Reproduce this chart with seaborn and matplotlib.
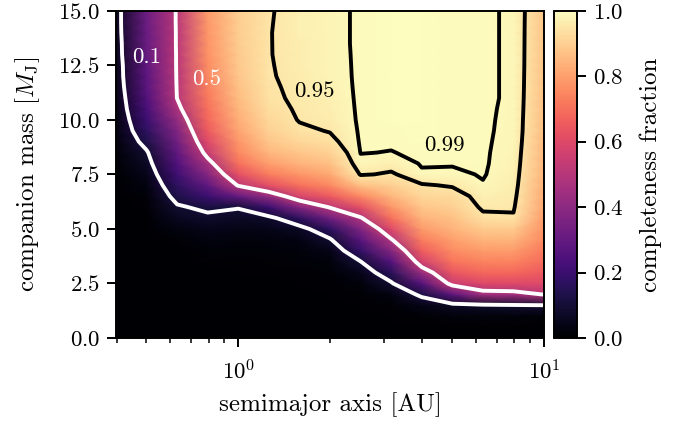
import numpy as np
import matplotlib
matplotlib.use('Agg')
import matplotlib.pyplot as plt
import seaborn as sns
from matplotlib.ticker import MultipleLocator, NullFormatter

sns.set_theme(style='ticks')
plt.rcParams.update({
    'font.family': 'serif',
    'font.serif': ['cmr10'],
    'mathtext.fontset': 'cm',
    'axes.formatter.use_mathtext': True,
    'axes.unicode_minus': False,
    'axes.edgecolor': 'black',
    'xtick.color': 'black',
    'ytick.color': 'black',
    'axes.labelcolor': 'black',
    'text.color': 'black',
})

# grid (columns = semimajor axis, values along companion mass)
semimajor_axis = [0.398, 0.501, 0.631, 0.794, 1.0, 1.259, 1.585, 1.995,
                  2.512, 3.162, 3.981, 5.012, 6.310, 7.943, 10.0]
companion_mass = [0.0, 0.5, 1.0, 1.5, 2.0, 2.5, 3.0, 3.5, 4.0, 4.5, 5.0,
                  5.5, 6.0, 6.5, 7.0, 7.5, 8.0, 8.5, 9.0, 9.5, 10.0, 10.5,
                  11.0, 11.5, 12.0, 12.5, 13.0, 13.5, 14.0, 14.5, 15.0]

completeness = [
    # a = 0.40
    [0, 0, 0, 0, 0, 0, 0, 0, 0, 0, 0, 0, 0, 0, 0, 0,
     0.01, 0.015, 0.02, 0.025, 0.03, 0.035, 0.04, 0.045, 0.05, 0.05,
     0.055, 0.055, 0.06, 0.06, 0.06],
    # a = 0.50
    [0, 0, 0, 0, 0, 0, 0, 0, 0, 0, 0, 0,
     0.01, 0.015, 0.03, 0.05, 0.07, 0.09, 0.13, 0.17, 0.2, 0.23, 0.25,
     0.27, 0.28, 0.29, 0.3, 0.31, 0.31, 0.32, 0.32],
    # a = 0.63
    [0, 0, 0, 0, 0, 0, 0, 0,
     0.003, 0.01, 0.03, 0.06, 0.09, 0.13, 0.17, 0.21, 0.25, 0.29, 0.33,
     0.37, 0.42, 0.47, 0.502, 0.505, 0.507, 0.508, 0.508, 0.509, 0.509,
     0.51, 0.51],
    # a = 0.79
    [0, 0, 0, 0, 0, 0,
     0.003, 0.008, 0.015, 0.03, 0.05, 0.08, 0.12, 0.2, 0.29, 0.38, 0.46,
     0.54, 0.6, 0.65, 0.68, 0.7, 0.72, 0.735, 0.75, 0.76, 0.77, 0.775,
     0.78, 0.785, 0.79],
    # a = 1.0
    [0, 0, 0, 0, 0,
     0.002, 0.004, 0.007, 0.012, 0.02, 0.04, 0.07, 0.105, 0.3, 0.51, 0.62,
     0.7, 0.75, 0.78, 0.81, 0.83, 0.845, 0.86, 0.87, 0.88, 0.885, 0.89,
     0.893, 0.896, 0.898, 0.9],
    # a = 1.26
    [0, 0, 0, 0, 0,
     0.002, 0.005, 0.008, 0.015, 0.025, 0.045, 0.08, 0.2, 0.42, 0.62, 0.73,
     0.8, 0.85, 0.88, 0.905, 0.92, 0.932, 0.94, 0.943, 0.946, 0.947,
     0.948, 0.948, 0.948, 0.947, 0.946],
    # a = 1.58
    [0, 0, 0, 0,
     0.002, 0.004, 0.007, 0.012, 0.02, 0.035, 0.07, 0.17, 0.38, 0.58, 0.7,
     0.78, 0.84, 0.88, 0.915, 0.94, 0.953, 0.957, 0.96, 0.962, 0.964,
     0.966, 0.967, 0.968, 0.969, 0.97, 0.97],
    # a = 2.0
    [0, 0, 0,
     0.002, 0.004, 0.007, 0.012, 0.02, 0.04, 0.09, 0.17, 0.33, 0.51, 0.65,
     0.75, 0.82, 0.87, 0.905, 0.935, 0.953, 0.962, 0.968, 0.972, 0.975,
     0.977, 0.978, 0.979, 0.98, 0.98, 0.98, 0.98],
    # a = 2.5
    [0, 0,
     0.002, 0.005, 0.01, 0.02, 0.05, 0.098, 0.18, 0.27, 0.37, 0.49, 0.62,
     0.75, 0.87, 0.955, 0.982, 0.991, 0.994, 0.995, 0.996,
     0.996, 0.996, 0.996, 0.996, 0.996, 0.996, 0.996, 0.996, 0.996, 0.996],
    # a = 3.16
    [0, 0.001, 0.004, 0.01, 0.03, 0.09, 0.16, 0.26, 0.38, 0.49, 0.6, 0.7,
     0.78, 0.85, 0.9, 0.943, 0.97, 0.989, 0.994, 0.996,
     0.997, 0.997, 0.997, 0.997, 0.997, 0.997, 0.997, 0.997, 0.997, 0.997,
     0.997],
    # a = 3.98
    [0, 0.002, 0.01, 0.04, 0.12, 0.26, 0.43, 0.57, 0.66, 0.73, 0.79, 0.84,
     0.88, 0.915, 0.945, 0.985, 0.993, 0.996,
     0.997, 0.997, 0.997, 0.997, 0.997, 0.997, 0.997, 0.997, 0.997, 0.997,
     0.997, 0.997, 0.997],
    # a = 5.0
    [0, 0.003, 0.02, 0.07, 0.28, 0.55, 0.64, 0.71, 0.76, 0.8, 0.84, 0.87,
     0.9, 0.925, 0.955, 0.985, 0.992, 0.994,
     0.995, 0.995, 0.995, 0.995, 0.995, 0.995, 0.995, 0.995, 0.995, 0.995,
     0.995, 0.995, 0.995],
    # a = 6.3
    [0, 0.003, 0.02, 0.08, 0.45, 0.6, 0.68, 0.74, 0.79, 0.84, 0.89, 0.935,
     0.96, 0.972, 0.988, 0.992,
     0.993, 0.993, 0.993, 0.993, 0.993, 0.993, 0.993, 0.993, 0.993, 0.993,
     0.993, 0.993, 0.993, 0.993, 0.993],
    # a = 7.9
    [0, 0.003, 0.02, 0.09, 0.46, 0.6, 0.68, 0.74, 0.79, 0.84, 0.89, 0.945,
     0.955, 0.962, 0.968, 0.972, 0.976, 0.979, 0.982, 0.984, 0.985, 0.986,
     0.987, 0.987, 0.987, 0.987, 0.987, 0.987, 0.987, 0.987, 0.987],
    # a = 10
    [0, 0.002, 0.015, 0.098, 0.505, 0.6, 0.65, 0.69, 0.72, 0.75, 0.77, 0.79,
     0.81, 0.82, 0.83, 0.84, 0.845, 0.85, 0.855, 0.86, 0.862, 0.865, 0.867,
     0.87, 0.872, 0.874, 0.875, 0.876, 0.877, 0.878, 0.88],
]

contour_levels_light = [0.1, 0.5]
contour_levels_dark = [0.95, 0.99]
# where the level labels sit (semimajor axis, mass)
label_text = ['0.1', '0.5', '0.95', '0.99']
label_a = [0.503, 0.788, 1.775, 4.73]
label_m = [12.85, 11.85, 11.32, 8.85]
label_color = ['white', 'white', 'black', 'black']

Z = np.array(completeness).T
cmap = sns.color_palette('magma', as_cmap=True)

fig = plt.figure(figsize=(6.94, 4.26), dpi=100)
ax = fig.add_axes([0.167, 0.2066, 0.617, 0.768])
cax = fig.add_axes([0.798, 0.2066, 0.033, 0.768])

mesh = ax.pcolormesh(semimajor_axis, companion_mass, Z, shading='gouraud',
                     cmap=cmap, vmin=0, vmax=1, rasterized=True)
ax.contour(semimajor_axis, companion_mass, Z, levels=contour_levels_light,
           colors='white', linewidths=2.8)
ax.contour(semimajor_axis, companion_mass, Z, levels=contour_levels_dark,
           colors='black', linewidths=2.8)
for t, a, m, c in zip(label_text, label_a, label_m, label_color):
    ax.text(a, m, t, color=c, fontsize=16.5, ha='center', va='center')

ax.set_xscale('log')
ax.set_xlim(semimajor_axis[0], semimajor_axis[-1])
ax.set_ylim(0, 15)
ax.yaxis.set_major_locator(MultipleLocator(2.5))
ax.xaxis.set_minor_formatter(NullFormatter())
ax.set_xlabel('semimajor axis [AU]', fontsize=18, va='center')
ax.set_ylabel(r'companion mass [$M_{\rm J}$]', fontsize=18, va='center')
ax.xaxis.set_label_coords(0.5, -0.205)
ax.yaxis.set_label_coords(-0.206, 0.5)

cb = fig.colorbar(mesh, cax=cax, ticks=[0, 0.2, 0.4, 0.6, 0.8, 1.0])
cb.set_label('completeness fraction', fontsize=18, va='center')
cax.yaxis.set_label_coords(4.24, 0.5)
cb.outline.set_linewidth(1.4)

for a_ in (ax, cax):
    for s in a_.spines.values():
        s.set_linewidth(1.4)
    a_.tick_params(which='major', direction='out', length=6.5, width=1.4,
                   labelsize=16.5, pad=5)
    a_.tick_params(which='minor', direction='out', length=3.6, width=1.1)
ax.tick_params(axis='x', which='major', pad=9)

fig.savefig('out.png', dpi=100)
